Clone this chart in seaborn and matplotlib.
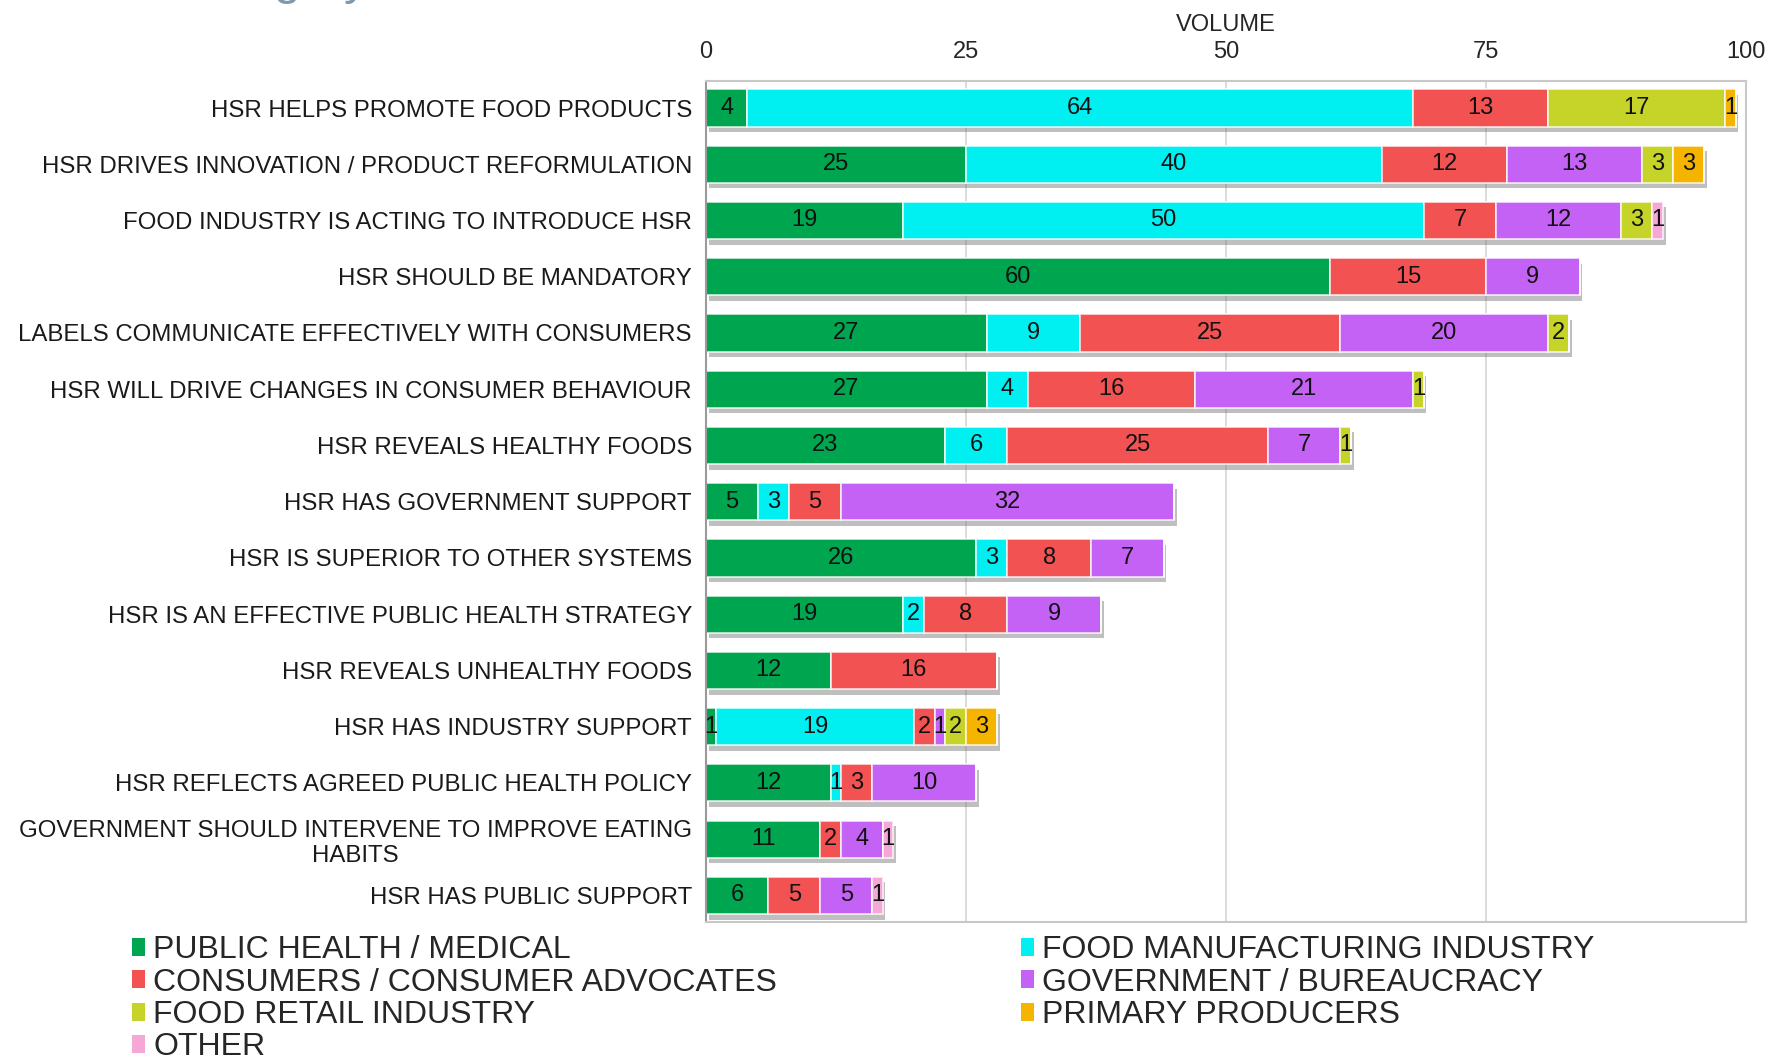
import numpy as np
import pandas as pd
import seaborn as sns
import matplotlib
matplotlib.use("Agg")
import matplotlib.pyplot as plt
import matplotlib.patheffects as pe
from matplotlib.patches import Patch

# Statements (one bar each), top to bottom
statements = [
    "HSR HELPS PROMOTE FOOD PRODUCTS",
    "HSR DRIVES INNOVATION / PRODUCT REFORMULATION",
    "FOOD INDUSTRY IS ACTING TO INTRODUCE HSR",
    "HSR SHOULD BE MANDATORY",
    "LABELS COMMUNICATE EFFECTIVELY WITH CONSUMERS",
    "HSR WILL DRIVE CHANGES IN CONSUMER BEHAVIOUR",
    "HSR REVEALS HEALTHY FOODS",
    "HSR HAS GOVERNMENT SUPPORT",
    "HSR IS SUPERIOR TO OTHER SYSTEMS",
    "HSR IS AN EFFECTIVE PUBLIC HEALTH STRATEGY",
    "HSR REVEALS UNHEALTHY FOODS",
    "HSR HAS INDUSTRY SUPPORT",
    "HSR REFLECTS AGREED PUBLIC HEALTH POLICY",
    "GOVERNMENT SHOULD INTERVENE TO IMPROVE EATING\nHABITS",
    "HSR HAS PUBLIC SUPPORT",
]

# Volume of statements by stakeholder group
public_health = [4, 25, 19, 60, 27, 27, 23, 5, 26, 19, 12, 1, 12, 11, 6]
food_manufacturing = [64, 40, 50, 0, 9, 4, 6, 3, 3, 2, 0, 19, 1, 0, 0]
consumers = [13, 12, 7, 15, 25, 16, 25, 5, 8, 8, 16, 2, 3, 2, 5]
government = [0, 13, 12, 9, 20, 21, 7, 32, 7, 9, 0, 1, 10, 4, 5]
food_retail = [17, 3, 3, 0, 2, 1, 1, 0, 0, 0, 0, 2, 0, 0, 0]
primary_producers = [1, 3, 0, 0, 0, 0, 0, 0, 0, 0, 0, 3, 0, 0, 0]
other = [0, 0, 1, 0, 0, 0, 0, 0, 0, 0, 0, 0, 0, 1, 1]

groups = [
    "PUBLIC HEALTH / MEDICAL",
    "FOOD MANUFACTURING INDUSTRY",
    "CONSUMERS / CONSUMER ADVOCATES",
    "GOVERNMENT / BUREAUCRACY",
    "FOOD RETAIL INDUSTRY",
    "PRIMARY PRODUCERS",
    "OTHER",
]
series = [public_health, food_manufacturing, consumers, government,
          food_retail, primary_producers, other]
colors = ["#00A550", "#00F0F2", "#F25252", "#C462F5",
          "#C6D42A", "#F5B400", "#F5A8D8"]

df = pd.DataFrame({g: s for g, s in zip(groups, series)})
df.insert(0, "statement", statements)

sns.set_theme(style="white")
plt.rcParams["font.family"] = ["Liberation Sans", "DejaVu Sans"]

fig = plt.figure(figsize=(17.69, 10.59), dpi=100)
ax = fig.add_axes([0.399, 0.129, 0.588, 0.7945])

shadow = [pe.SimplePatchShadow(offset=(2, -4), shadow_rgbFace=(0.45, 0.45, 0.45), alpha=0.45),
          pe.Normal()]

left = np.zeros(len(statements))
for g, c in zip(groups, colors):
    vals = df[g].to_numpy(dtype=float)
    sns.barplot(data=df, x=g, y="statement", order=statements, orient="h",
                color=c, saturation=1, width=0.66, left=left,
                edgecolor=(1, 1, 1, 0.75), linewidth=1.3, ax=ax)
    cont = ax.containers[-1]
    for bar in cont:
        bar.set_path_effects(shadow)
    labels = [f"{int(v)}" if v > 0 else "" for v in vals]
    ax.bar_label(cont, labels=labels, label_type="center",
                 fontsize=17, color="#111111")
    left = left + vals

ax.set_xlim(0, 100)
ax.set_ylim(len(statements) - 0.52, -0.48)
ax.xaxis.tick_top()
ax.xaxis.set_label_position("top")
ax.set_xticks([0, 25, 50, 75, 100])
ax.set_xlabel("VOLUME", fontsize=17, labelpad=7)
ax.set_ylabel("")
ax.tick_params(axis="x", labelsize=17, length=0, pad=13)
ax.tick_params(axis="y", labelsize=17.3, length=0, pad=10, labelcolor="#1A1A1A")
for t in ax.get_yticklabels():
    t.set_multialignment("center")
ax.grid(axis="x", color="#D4D4D4", linewidth=1.2, zorder=0)
ax.set_axisbelow(True)
for side, sp in ax.spines.items():
    sp.set_visible(True)
    sp.set_color("#C8C8C8")
    sp.set_linewidth(1.5)
ax.spines["left"].set_color("#9A9A9A")

# Legend laid out in two columns, filled row by row
handles = [Patch(facecolor=c, edgecolor="none") for c in colors]
col_a = [0, 2, 4, 6]
col_b = [1, 3, 5]
leg_kw = dict(frameon=False, fontsize=23, handlelength=0.42, handleheight=0.5,
              handletextpad=0.25, labelspacing=0.076, borderaxespad=0, borderpad=0)
leg1 = fig.legend([handles[i] for i in col_a], [groups[i] for i in col_a],
                  loc="upper left", bbox_to_anchor=(0.0746, 0.1169), **leg_kw)
leg2 = fig.legend([handles[i] for i in col_b], [groups[i] for i in col_b],
                  loc="upper left", bbox_to_anchor=(0.577, 0.1169), **leg_kw)

# Heading above the chart, cut by the top edge
fig.text(0.097, 1.006, "Category", fontsize=35, color="#7F98AC",
         ha="left", va="baseline")

fig.savefig("out.png", dpi=100)
